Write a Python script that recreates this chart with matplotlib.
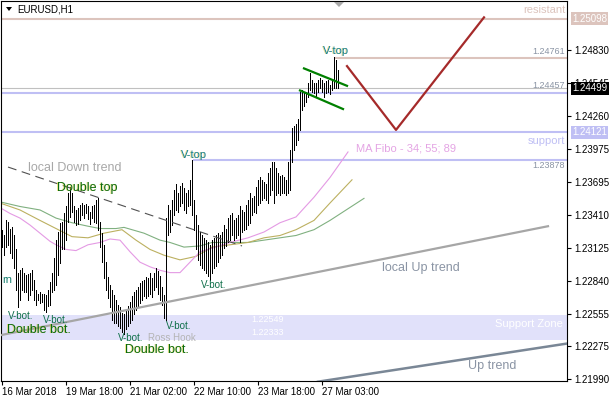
import numpy as np
import matplotlib.pyplot as plt
from matplotlib import transforms
from matplotlib.patches import Polygon

plt.rcParams['font.family'] = ['Liberation Sans', 'DejaVu Sans']

# EURUSD H1 bars, 16 Mar 2018 10:00 .. 27 Mar 2018
highs = [
    1.2328, 1.2323, 1.2336, 1.2335, 1.2329, 1.2330, 1.2323, 1.2311, 1.2291, 1.2293,
    1.2295, 1.2291, 1.2289, 1.2290, 1.2291, 1.2293, 1.2285, 1.2276, 1.2273, 1.2274,
    1.2273, 1.2273, 1.2272, 1.2276, 1.2283, 1.2291, 1.2304, 1.2319, 1.2326, 1.2334,
    1.2335, 1.2342, 1.2348, 1.2360, 1.2365, 1.2360, 1.2348, 1.2345, 1.2347, 1.2349,
    1.2351, 1.2349, 1.2350, 1.2348, 1.2343, 1.2348, 1.2349, 1.2354, 1.2355, 1.2335,
    1.2325, 1.2315, 1.2300, 1.2287, 1.2280, 1.2276, 1.2272, 1.2267, 1.2263, 1.2261,
    1.2256, 1.2255, 1.2259, 1.2262, 1.2266, 1.2271, 1.2274, 1.2276, 1.2279, 1.2282,
    1.2284, 1.2285, 1.2287, 1.2286, 1.2291, 1.2286, 1.2291, 1.2295, 1.2292, 1.2288,
    1.2279, 1.2272, 1.2338, 1.2349, 1.2345, 1.2354, 1.2362, 1.2367, 1.2360, 1.2366,
    1.2368, 1.2364, 1.2360, 1.2362, 1.2371, 1.2388, 1.2354, 1.2341, 1.2332, 1.2326,
    1.2323, 1.2321, 1.2319, 1.2317, 1.2315, 1.2319, 1.2321, 1.2323, 1.2325, 1.2323,
    1.2326, 1.2332, 1.2329, 1.2338, 1.2341, 1.2342, 1.2336, 1.2338, 1.2341, 1.2348,
    1.2345, 1.2343, 1.2349, 1.2354, 1.2360, 1.2355, 1.2357, 1.2365, 1.2371, 1.2373,
    1.2371, 1.2369, 1.2367, 1.2377, 1.2381, 1.2386, 1.2386, 1.2381, 1.2377, 1.2374,
    1.2375, 1.2373, 1.2371, 1.2386, 1.2397, 1.2416, 1.2417, 1.2419, 1.2423, 1.2447,
    1.2448, 1.2446, 1.2447, 1.2454, 1.2463, 1.2457, 1.2454, 1.2454, 1.2457, 1.2459,
    1.2457, 1.2454, 1.2456, 1.2457, 1.2453, 1.2457, 1.2477, 1.2474, 1.2466,
]
lows = [
    1.2313, 1.2306, 1.2313, 1.2315, 1.2308, 1.2304, 1.2295, 1.2276, 1.2261, 1.2267,
    1.2276, 1.2274, 1.2274, 1.2267, 1.2272, 1.2276, 1.2267, 1.2263, 1.2267, 1.2265,
    1.2266, 1.2259, 1.2257, 1.2262, 1.2263, 1.2274, 1.2276, 1.2280, 1.2289, 1.2299,
    1.2311, 1.2311, 1.2319, 1.2335, 1.2339, 1.2343, 1.2335, 1.2332, 1.2333, 1.2336,
    1.2341, 1.2338, 1.2342, 1.2337, 1.2333, 1.2338, 1.2335, 1.2334, 1.2328, 1.2313,
    1.2300, 1.2286, 1.2276, 1.2269, 1.2261, 1.2250, 1.2248, 1.2248, 1.2245, 1.2243,
    1.2240, 1.2238, 1.2242, 1.2245, 1.2248, 1.2250, 1.2255, 1.2259, 1.2261, 1.2265,
    1.2267, 1.2271, 1.2269, 1.2271, 1.2273, 1.2270, 1.2276, 1.2279, 1.2273, 1.2267,
    1.2263, 1.2252, 1.2250, 1.2323, 1.2326, 1.2332, 1.2341, 1.2345, 1.2343, 1.2348,
    1.2351, 1.2345, 1.2342, 1.2348, 1.2349, 1.2341, 1.2328, 1.2311, 1.2302, 1.2298,
    1.2295, 1.2293, 1.2291, 1.2288, 1.2285, 1.2291, 1.2295, 1.2297, 1.2300, 1.2304,
    1.2306, 1.2312, 1.2314, 1.2317, 1.2319, 1.2323, 1.2319, 1.2321, 1.2323, 1.2317,
    1.2326, 1.2328, 1.2329, 1.2332, 1.2334, 1.2341, 1.2343, 1.2342, 1.2349, 1.2351,
    1.2354, 1.2355, 1.2354, 1.2351, 1.2358, 1.2362, 1.2351, 1.2358, 1.2360, 1.2358,
    1.2360, 1.2360, 1.2358, 1.2360, 1.2362, 1.2386, 1.2397, 1.2401, 1.2405, 1.2414,
    1.2431, 1.2435, 1.2438, 1.2442, 1.2448, 1.2447, 1.2446, 1.2442, 1.2447, 1.2450,
    1.2447, 1.2442, 1.2446, 1.2447, 1.2445, 1.2448, 1.2450, 1.2450, 1.2450,
]

# MA Fibo 34 / 55 / 89 (shifted forward), sampled at bar index
ma34_idx = [-1, 4, 9, 14, 19, 24, 27, 32, 37, 43, 49, 54, 59, 64, 69, 74, 79, 84, 89,
            94, 99, 105, 114, 123, 131, 139, 147, 156, 164, 173]
ma34 = [1.2347, 1.2342, 1.2338, 1.2332, 1.2325, 1.2318, 1.2315, 1.2311, 1.2310, 1.2315,
        1.2317, 1.2320, 1.2319, 1.2309, 1.2300, 1.2296, 1.2293, 1.2291, 1.2291,
        1.2300, 1.2309, 1.2312, 1.2317, 1.2321, 1.2326, 1.2334, 1.2339, 1.2356, 1.2373, 1.2395]
ma55_idx = [-1, 9, 19, 27, 35, 43, 51, 60, 67, 74, 81, 89, 97, 105, 114, 123, 131, 139,
            147, 156, 164, 175]
ma55 = [1.2351, 1.2345, 1.2336, 1.2329, 1.2322, 1.2321, 1.2325, 1.2328, 1.2319, 1.2311,
        1.2306, 1.2302, 1.2305, 1.2313, 1.2315, 1.2317, 1.2321, 1.2323, 1.2328, 1.2336,
        1.2351, 1.2371]
ma89_idx = [-1, 9, 19, 27, 35, 43, 49, 57, 61, 71, 79, 84, 91, 99, 105, 123, 131, 139,
            147, 156, 164, 181]
ma89 = [1.2352, 1.2348, 1.2345, 1.2338, 1.2334, 1.2331, 1.2329, 1.2329, 1.2330, 1.2325,
        1.2319, 1.2317, 1.2313, 1.2314, 1.2317, 1.2317, 1.2319, 1.2321, 1.2323, 1.2328,
        1.2336, 1.2355]

y_ticks = [1.24830, 1.24545, 1.24260, 1.23975, 1.23695, 1.23410, 1.23125,
           1.22840, 1.22555, 1.22275, 1.21990]
x_tick_idx = [0, 32, 64, 96, 128, 160]
x_tick_labels = ['16 Mar 2018', '19 Mar 18:00', '21 Mar 02:00', '22 Mar 10:00',
                 '23 Mar 18:00', '27 Mar 03:00']

resistant = 1.25098
level_top = 1.24761
bid = 1.24499
level_mid = 1.24457
support = 1.24121
level_low = 1.23878
zone_hi, zone_lo = 1.22549, 1.22333

ROSY = '#dcc4bd'
LAV = '#bfbff4'
TXT_GRAY = '#8a94a4'

fig = plt.figure(figsize=(6.1, 4.0), dpi=100)
ax = fig.add_axes([1 / 610, 19 / 400, 566 / 610, 380 / 400])
ax.set_xlim(-0.5, 282.5)
ax.set_ylim(1.21976, 1.25251)

# background objects
ax.axhspan(zone_lo, zone_hi, color='#e1e1fa', lw=0, zorder=0.5)
ax.axhline(resistant, color=ROSY, lw=1.5, zorder=1)
ax.hlines(level_top, 166.5, 282.5, color=ROSY, lw=1.5, zorder=1)
ax.axhline(bid, color='#c0c0c0', lw=0.8, zorder=1)
ax.axhline(level_mid, color=LAV, lw=1.5, zorder=1)
ax.axhline(support, color=LAV, lw=1.5, zorder=1)
ax.hlines(level_low, 95.5, 282.5, color=LAV, lw=1.5, zorder=1)

# moving averages
ax.plot(ma89_idx, ma89, color='#80b080', lw=0.8, zorder=1.5)
ax.plot(ma55_idx, ma55, color='#bcb060', lw=0.8, zorder=1.5)
ax.plot(ma34_idx, ma34, color='#e49ae4', lw=0.8, zorder=1.5)

# bars (1 px, crisp)
idx = np.arange(len(highs))
ax.vlines(idx, lows, highs, color='black', lw=0.72, antialiased=False, zorder=3)

# trend lines
ax.plot([3, 120], [1.2382, 1.2314], color='#505050', lw=0.8, dashes=(8, 5), zorder=4)
ax.plot([-1, 273], [1.2237, 1.2331], color='#a6a6a6', lw=1.6, zorder=4)
ax.plot([158, 283], [1.2197, 1.2230], color='#7a8796', lw=1.8, zorder=4)
ax.plot([151, 172.5], [1.2467, 1.2452], color='#008000', lw=1.6, zorder=4)
ax.plot([149, 170.5], [1.2448, 1.2432], color='#008000', lw=1.6, zorder=4)
ax.plot([172.5, 197, 241], [1.2469, 1.2414, 1.2511], color='#a52a2a', lw=1.6, zorder=4)

# axes look
for s in ax.spines.values():
    s.set_color('black')
    s.set_linewidth(0.8)
ax.yaxis.tick_right()
ax.set_yticks(y_ticks)
ax.set_yticklabels(['%.5f' % v for v in y_ticks])
ax.tick_params(axis='y', length=3, width=0.8, pad=2, labelsize=7)
ax.set_xticks(x_tick_idx)
ax.set_xticklabels(x_tick_labels)
ax.tick_params(axis='x', length=3, width=0.8, pad=1.5, labelsize=7)
for lbl in ax.get_xticklabels():
    lbl.set_ha('left')

# price tags on the scale
def tag(price, fc):
    ax.annotate('%.5f' % price, xy=(1.0, price), xycoords=('axes fraction', 'data'),
                xytext=(5, 0), textcoords='offset pixels', ha='left', va='center',
                fontsize=7, color='white', zorder=10, annotation_clip=False,
                bbox=dict(boxstyle='square,pad=0.15', fc=fc, ec='none'))

tag(resistant, ROSY)
tag(support, LAV)
tag(bid, 'black')

def label(x, y, s, color, size, ha='left', shadow=None):
    if shadow:
        tr = transforms.offset_copy(ax.transData, fig=fig, x=-0.8, y=0, units='dots')
        ax.text(x, y, s, color=shadow, alpha=0.45, fontsize=size, ha=ha, va='center',
                transform=tr, zorder=5)
    ax.text(x, y, s, color=color, fontsize=size, ha=ha, va='center', zorder=6)

label(281.5, 1.25174, 'resistant', ROSY, 8, ha='right')
label(281.5, 1.24812, '1.24761', TXT_GRAY, 6.5, ha='right')
label(281.5, 1.24519, '1.24457', TXT_GRAY, 6.5, ha='right')
label(281.5, 1.24047, 'support', LAV, 8, ha='right')
label(281.5, 1.23829, '1.23878', TXT_GRAY, 6.5, ha='right')
label(177, 1.23976, 'MA Fibo - 34; 55; 89', '#e4a4e4', 8)
label(13, 1.23812, 'local Down trend', '#a8a8a8', 9)
label(27.5, 1.23639, 'Double top', '#0b6a10', 9, shadow='#d8c800')
label(160.5, 1.24820, 'V-top', '#107f94', 8, shadow='#d8b000')
label(89.5, 1.23924, 'V-top', '#107f94', 8, shadow='#d8b000')
label(3, 1.22535, 'V-bot.', '#0d6e48', 7)
label(20.5, 1.22505, 'V-bot.', '#0d6e48', 7)
label(58, 1.22343, 'V-bot.', '#0d6e48', 7)
label(82, 1.22450, 'V-bot.', '#0d6e48', 7)
label(99.5, 1.22803, 'V-bot.', '#0d6e48', 7)
label(2.5, 1.22418, 'Double bot.', '#0b6a10', 9, shadow='#d8c800')
label(61.5, 1.22245, 'Double bot.', '#0b6a10', 9, shadow='#d8c800')
label(73, 1.22347, 'Ross Hook', '#b4b4b4', 7)
label(190, 1.22950, 'local Up trend', TXT_GRAY, 9)
label(233, 1.22105, 'Up trend', TXT_GRAY, 9)
label(280.5, 1.22467, 'Support Zone', 'white', 8, ha='right')
label(124.5, 1.22510, '1.22549', 'white', 6.5)
label(124.5, 1.22390, '1.22333', 'white', 6.5)
label(0, 1.22846, 'rn', '#188070', 8)

# window caption and shift marker
fig.text(17 / 610, 1 - 9 / 400, 'EURUSD,H1', fontsize=7, va='center', color='black')
fig.add_artist(Polygon([(6 / 610, 1 - 7 / 400), (12 / 610, 1 - 7 / 400), (9 / 610, 1 - 11 / 400)],
                       closed=True, fc='black', ec='none', transform=fig.transFigure))
fig.add_artist(Polygon([(334 / 610, 1 - 2 / 400), (344 / 610, 1 - 2 / 400), (339 / 610, 1 - 7 / 400)],
                       closed=True, fc='#a8a8a8', ec='none', transform=fig.transFigure))

fig.savefig('out.png', dpi=100)
